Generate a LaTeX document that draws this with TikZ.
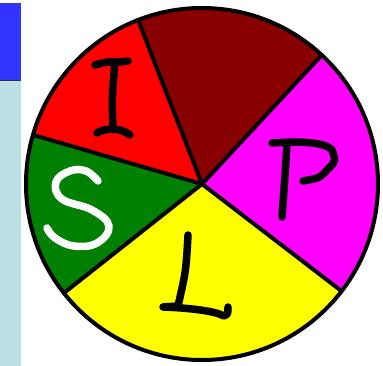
\documentclass[tikz,border=0pt]{standalone}
\usetikzlibrary{calc}
\definecolor{hdrblue}{HTML}{3333FF}
\definecolor{panelblue}{HTML}{BADFE4}
\definecolor{slicered}{HTML}{FF0000}
\definecolor{slicedark}{HTML}{880000}
\definecolor{slicemag}{HTML}{FF00FF}
\definecolor{sliceyel}{HTML}{FFFF00}
\definecolor{slicegreen}{HTML}{008000}
\begin{document}
\begin{tikzpicture}[x=1pt,y=1pt,
  outline/.style={draw=black,line width=4pt},
  pen/.style={line width=7.5pt,line cap=round,line join=round},
  blackpen/.style={pen,draw=black},
  whitepen/.style={pen,draw=white}]
\useasboundingbox (0,0) rectangle (383,366);
\fill[white] (0,0) rectangle (383,366);
% left panels
\fill[hdrblue] (0,286) rectangle (21,363);
\fill[panelblue] (0,0) rectangle (21,285);
\draw[black!80,line width=1.2pt] (0,285.5) -- (21,285.5);
% pie
\coordinate (c) at (202,182);
\def\R{176}
\fill[slicedark] (c) -- ++(47.1:\R) arc[start angle=47.1,end angle=111.3,radius=\R] -- cycle;
\fill[slicered] (c) -- ++(111.3:\R) arc[start angle=111.3,end angle=163.8,radius=\R] -- cycle;
\fill[slicegreen] (c) -- ++(163.8:\R) arc[start angle=163.8,end angle=218.3,radius=\R] -- cycle;
\fill[sliceyel] (c) -- ++(218.3:\R) arc[start angle=218.3,end angle=322.5,radius=\R] -- cycle;
\fill[slicemag] (c) -- ++(-37.5:\R) arc[start angle=-37.5,end angle=47.1,radius=\R] -- cycle;
\foreach \a in {47.1,111.3,163.8,218.3,322.5}
  \draw[outline,line cap=round] (c) -- ++(\a:\R);
\draw[outline] (c) circle[radius=\R];
% letter I
\draw[blackpen] (95,301) .. controls (105,304) .. (114,304) .. controls (120,304) .. (128,305);
\draw[blackpen] (115,304) .. controls (112,270) .. (113,236);
\draw[blackpen] (97,233) .. controls (105,238) and (120,239) .. (130,231);
% letter L
\draw[blackpen] (188,131) .. controls (186,95) .. (178,60) -- (163,59) .. controls (190,58) and (215,55) .. (224,50) .. controls (228,52) .. (228,59);
% letter P
\draw[blackpen] (287,222) .. controls (285,190) .. (282,149);
\draw[blackpen] (272,223) .. controls (300,225) and (325,224) .. (332,216) .. controls (336,205) .. (328,197) .. controls (320,188) .. (303,185);
% letter S
\draw[whitepen] plot[smooth,tension=0.7] coordinates {(98,185) (86,195) (70,195) (56,184) (62,167) (92,156) (109,140) (97,123) (74,120) (55,128) (47,138)};
\end{tikzpicture}
\end{document}
